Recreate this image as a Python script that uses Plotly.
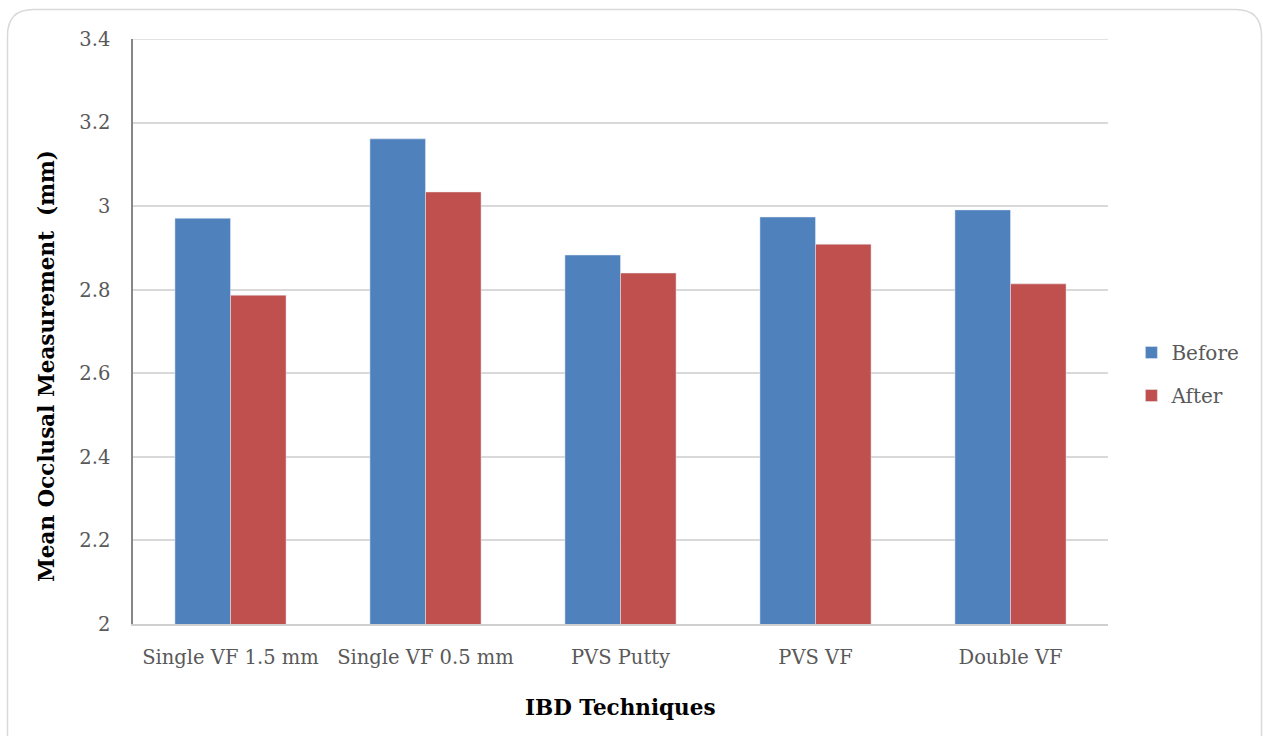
import plotly.graph_objects as go

categories = ["Single VF 1.5 mm", "Single VF 0.5 mm", "PVS Putty", "PVS VF", "Double VF"]
before = [2.971, 3.161, 2.883, 2.974, 2.991]
after = [2.787, 3.034, 2.840, 2.909, 2.814]
y_ticks = [2, 2.2, 2.4, 2.6, 2.8, 3, 3.2, 3.4]
y_tick_text = ["2", "2.2", "2.4", "2.6", "2.8", "3", "3.2", "3.4"]

W, H = 1263, 736
L, R, T, B = 133, 155, 39, 112
pw, ph = W - L - R, H - T - B

FONT = "DejaVu Serif"

fig = go.Figure()
fig.add_trace(go.Bar(x=categories, y=before, name="Before", marker_color="#4F81BD",
                     legendgroup="a"))
fig.add_trace(go.Bar(x=categories, y=after, name="After", marker_color="#C0504D",
                     legendgroup="b"))

def px(x):
    return (x - L) / pw

def py(y):
    return (H - B - y) / ph

# rounded border
x0, x1, y0, y1, r = 7.5, 1261.5, 9.5, 760, 26
path = (f"M {px(x0)},{py(y0 + r)} Q {px(x0)},{py(y0)} {px(x0 + r)},{py(y0)} "
        f"L {px(x1 - r)},{py(y0)} Q {px(x1)},{py(y0)} {px(x1)},{py(y0 + r)} "
        f"L {px(x1)},{py(y1)} L {px(x0)},{py(y1)} Z")

fig.update_layout(
    width=W, height=H,
    margin=dict(l=L, r=R, t=T, b=B),
    paper_bgcolor="white", plot_bgcolor="white",
    barmode="group", bargap=0.43, bargroupgap=0,
    font=dict(family=FONT, color="#595959", size=19),
    legend=dict(x=1.024, y=py(374), xanchor="left", yanchor="middle",
                font=dict(size=20, color="#595959"), tracegroupgap=14,
                itemwidth=30),
    shapes=[
        dict(type="path", xref="paper", yref="paper", path=path,
             line=dict(color="#D9D9D9", width=1.5), fillcolor="rgba(0,0,0,0)",
             layer="below"),
        dict(type="line", xref="paper", yref="y", x0=0, x1=1,
             y0=y_ticks[-1], y1=y_ticks[-1],
             line=dict(color="#D9D9D9", width=1.5), layer="below"),
    ],
    annotations=[
        dict(text="<b>Mean Occlusal Measurement  (mm)</b>", xref="paper", yref="paper",
             x=px(46), y=py(366), textangle=-90, showarrow=False,
             xanchor="center", yanchor="middle",
             font=dict(size=21.5, color="#000000", family=FONT)),
        dict(text="<b>IBD Techniques</b>", xref="paper", yref="paper",
             x=px(620), y=py(707), showarrow=False,
             xanchor="center", yanchor="middle",
             font=dict(size=21.5, color="#000000", family=FONT)),
    ],
)
fig.update_xaxes(showline=True, linecolor="#D0D0D0", linewidth=1.5, ticks="",
                 ticklabelstandoff=15, tickfont=dict(size=19.5, color="#595959"))
fig.update_yaxes(range=[2, 3.4], tickvals=y_ticks, ticktext=y_tick_text,
                 showgrid=True, gridcolor="#D9D9D9", gridwidth=1.5,
                 showline=True, linecolor="#868686", linewidth=1.5, ticks="",
                 ticklabelstandoff=17, tickfont=dict(size=19.5, color="#595959"),
                 zeroline=False)

fig.write_html("out.html")
